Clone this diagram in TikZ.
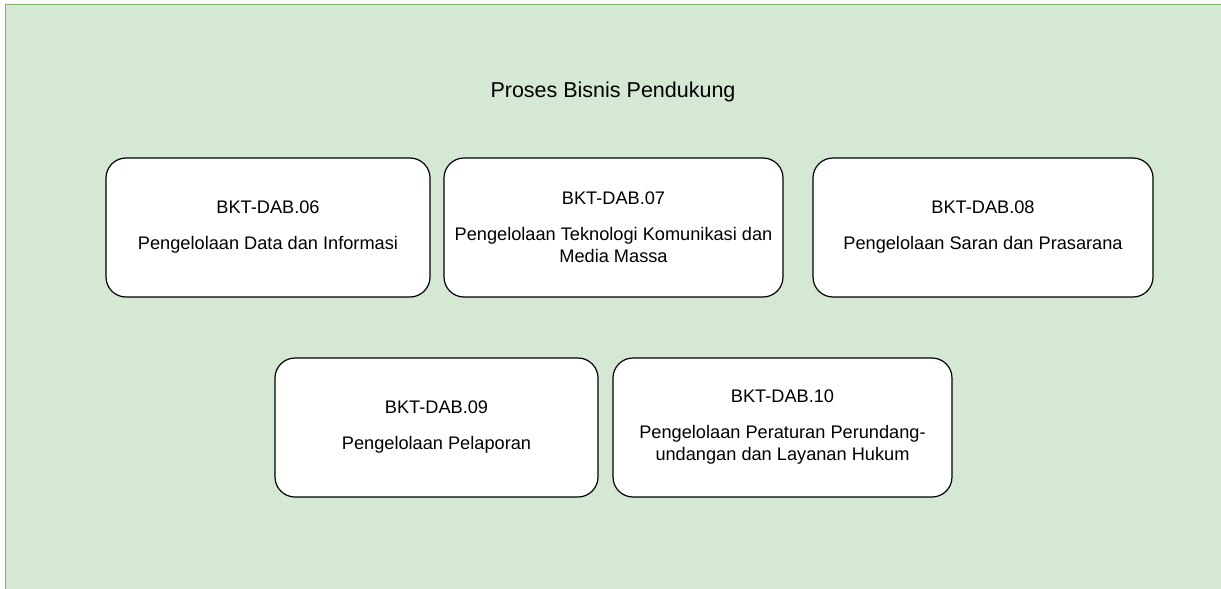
\documentclass[tikz,border=0pt]{standalone}
\usepackage{fontspec}
\setmainfont{Liberation Sans}
\definecolor{panelfill}{HTML}{D5E8D4}
\definecolor{panelline}{HTML}{82B366}
\begin{document}
\begin{tikzpicture}[x=1pt,y=-1pt,
  procbox/.style={draw=black, fill=white, line width=1.2pt, rounded corners=20pt,
    align=center, inner sep=0pt, font=\fontsize{18.2}{22}\selectfont},
  paneltitle/.style={font=\fontsize{21.5}{26}\selectfont, anchor=base, inner sep=0pt}]
  \useasboundingbox (0,0) rectangle (1221,589);
  \clip (0,0) rectangle (1221,589);
  % green panel, running off the right and bottom edges
  \draw[fill=panelfill, draw=panelline, line width=1.6pt] (5.5,4.5) rectangle (1240,610);
  \node[paneltitle] (title) at (613,97) {Proses Bisnis Pendukung};
  % upper row
  \node[procbox, minimum width=324pt, minimum height=139pt] (dab06) at (268,227.5)
    {BKT-DAB.06\\[14pt]Pengelolaan Data dan Informasi};
  \node[procbox, minimum width=339pt, minimum height=139pt] (dab07) at (613.5,227.5)
    {BKT-DAB.07\\[14pt]Pengelolaan Teknologi Komunikasi dan\\Media Massa};
  \node[procbox, minimum width=340pt, minimum height=139pt] (dab08) at (983,227.5)
    {BKT-DAB.08\\[14pt]Pengelolaan Saran dan Prasarana};
  % lower row
  \node[procbox, minimum width=323pt, minimum height=139pt] (dab09) at (436.5,427.5)
    {BKT-DAB.09\\[14pt]Pengelolaan Pelaporan};
  \node[procbox, minimum width=339pt, minimum height=139pt] (dab10) at (782.5,427.5)
    {BKT-DAB.10\\[14pt]Pengelolaan Peraturan Perundang-\\undangan dan Layanan Hukum};
\end{tikzpicture}
\end{document}
